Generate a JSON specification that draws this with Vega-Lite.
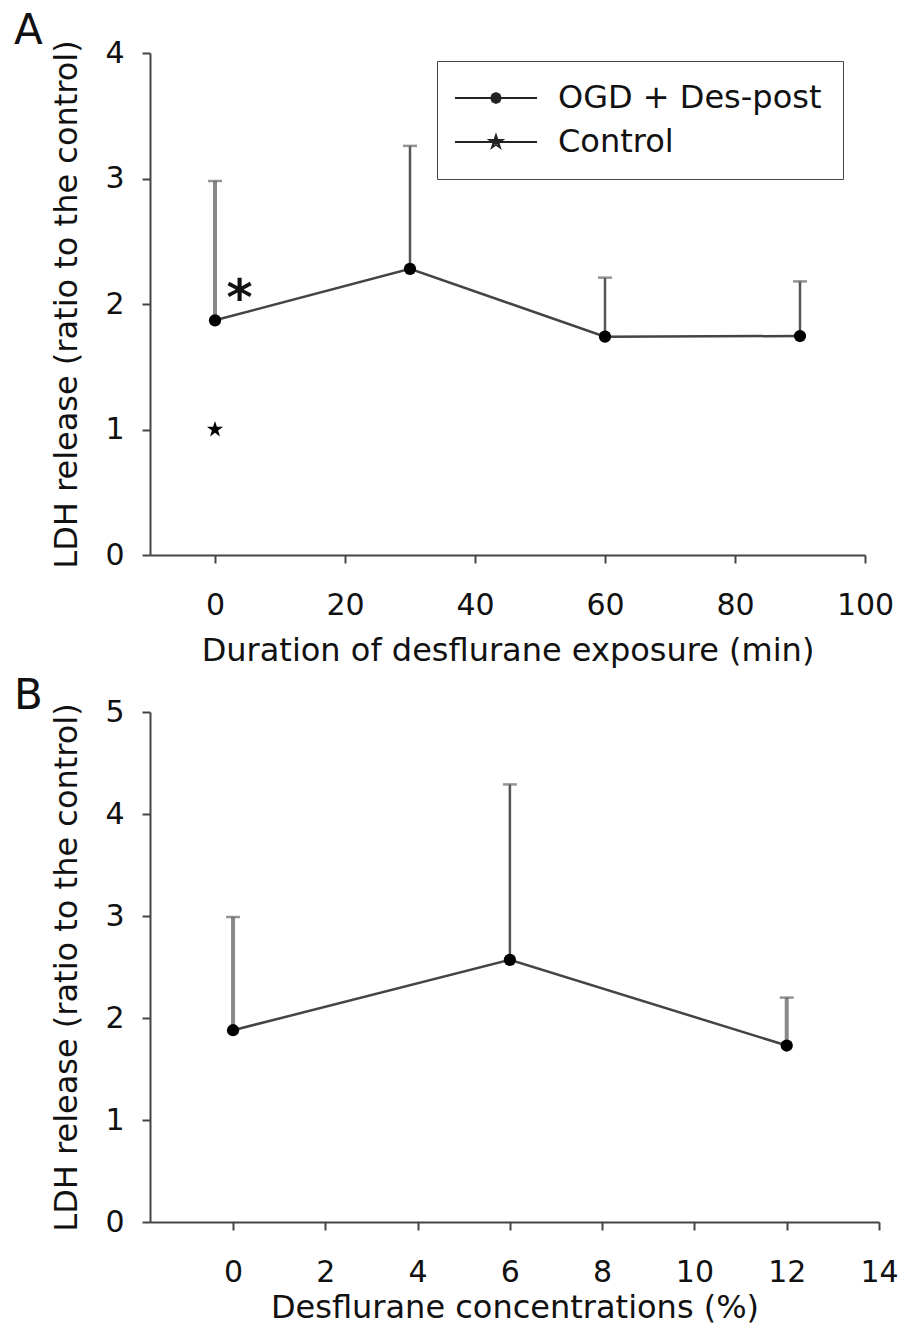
{
  "$schema": "https://vega.github.io/schema/vega-lite/v6.json",
  "background": "white",
  "padding": {"top": 10, "left": 13, "right": 0, "bottom": 0},
  "spacing": 9,
  "config": {
    "font": "DejaVu Sans",
    "view": {"stroke": null},
    "axis": {
      "domainColor": "#444", "domainWidth": 2, "tickColor": "#444", "tickWidth": 2, "tickSize": 8,
      "labelFont": "DejaVu Sans", "labelFontSize": 30, "labelColor": "#111",
      "titleFont": "DejaVu Sans", "titleFontSize": 32, "titleFontWeight": "normal", "titleColor": "#111",
      "grid": false, "labelFlush": false
    },
    "axisX": {"labelPadding": 27, "titlePadding": 15},
    "axisY": {"labelPadding": 18, "titlePadding": 21}
  },
  "vconcat": [
    {
      "width": 715,
      "height": 502,
      "title": {"text": "A", "anchor": "start", "frame": "bounds", "fontSize": 42, "fontWeight": "normal", "font": "DejaVu Sans", "color": "#111", "dx": -37, "offset": -15},
      "data": {"values": [
        {"dur": 0, "ldh": 1.87, "upper": 2.98, "series": "OGD + Des-post"},
        {"dur": 30, "ldh": 2.28, "upper": 3.26, "series": "OGD + Des-post"},
        {"dur": 60, "ldh": 1.74, "upper": 2.21, "series": "OGD + Des-post"},
        {"dur": 90, "ldh": 1.745, "upper": 2.18, "series": "OGD + Des-post"},
        {"dur": 0, "ldh": 1.0, "series": "Control"}
      ]},
      "encoding": {
        "x": {"field": "dur", "type": "quantitative", "scale": {"domain": [-10, 100], "nice": false, "zero": false}, "axis": {"values": [0, 20, 40, 60, 80, 100]}, "title": "Duration of desflurane exposure (min)"},
        "y": {"field": "ldh", "type": "quantitative", "scale": {"domain": [0, 4], "nice": false}, "axis": {"values": [0, 1, 2, 3, 4]}, "title": "LDH release (ratio to the control)"}
      },
      "layer": [
        {
          "transform": [{"filter": "datum.series === 'OGD + Des-post' && datum.dur === 0"}],
          "mark": {"type": "rule", "color": "#888", "strokeWidth": 4},
          "encoding": {"y2": {"field": "upper"}}
        },
        {
          "transform": [{"filter": "datum.series === 'OGD + Des-post' && datum.dur !== 0"}],
          "mark": {"type": "rule", "color": "#555", "strokeWidth": 2.5},
          "encoding": {"y2": {"field": "upper"}}
        },
        {
          "transform": [{"filter": "datum.series === 'OGD + Des-post'"}],
          "mark": {"type": "tick", "orient": "horizontal", "size": 14, "thickness": 2.5, "color": "#666"},
          "encoding": {"y": {"field": "upper", "type": "quantitative", "title": "LDH release (ratio to the control)"}}
        },
        {
          "transform": [{"filter": "datum.series === 'OGD + Des-post'"}],
          "mark": {"type": "line", "color": "#444", "strokeWidth": 2.5},
          "encoding": {}
        },
        {
          "transform": [{"filter": "datum.series === 'OGD + Des-post'"}],
          "mark": {"type": "point", "filled": true, "color": "black", "opacity": 1, "size": 150, "shape": "circle"},
          "encoding": {}
        },
        {
          "transform": [{"filter": "datum.series === 'Control'"}],
          "mark": {"type": "point", "filled": true, "color": "black", "opacity": 1, "size": 289, "shape": "M0,-1L0.225,-0.309L0.951,-0.309L0.363,0.118L0.588,0.809L0,0.382L-0.588,0.809L-0.363,0.118L-0.951,-0.309L-0.225,-0.309Z"},
          "encoding": {}
        },
        {
          "transform": [{"filter": "false"}],
          "mark": {"type": "point", "filled": false, "color": "#222", "strokeWidth": 2, "opacity": 1},
          "encoding": {
            "shape": {"field": "series", "type": "nominal",
              "scale": {"domain": ["OGD + Des-post", "Control"], "range": [
                "M-3.17,0H10.5M4.46,0L4.226,0.566L3.66,0.8L3.094,0.566L2.86,0L3.094,-0.566L3.66,-0.8L4.226,-0.566ZM4.11,0L3.978,0.318L3.66,0.45L3.342,0.318L3.21,0L3.342,-0.318L3.66,-0.45L3.978,-0.318ZM3.5,-0.15H3.82V0.15H3.5Z",
                "M-3.17,0H10.5M3.66,-1.1L3.907,-0.34L4.706,-0.34L4.06,0.13L4.307,0.89L3.66,0.42L3.013,0.89L3.26,0.13L2.614,-0.34L3.413,-0.34ZM3.66,-0.5L3.8,-0.1L4.1,0.1L3.66,0.25L3.22,0.1L3.52,-0.1Z"
              ]},
              "legend": {
                "title": null, "orient": "none", "legendX": 287, "legendY": 8,
                "strokeColor": "#444", "padding": 21, "rowPadding": 12,
                "labelFont": "DejaVu Sans", "labelFontSize": 32, "labelColor": "#111", "labelLimit": 500,
                "symbolSize": 144, "labelOffset": 68,
                "symbolStrokeColor": "#222", "symbolStrokeWidth": 2, "symbolOpacity": 1
              }
            }
          }
        },
        {
          "data": {"values": [{"dur": 3.8, "ldh": 2.13, "label": "*"}]},
          "mark": {"type": "text", "fontSize": 50, "fontWeight": "bold", "baseline": "middle", "dy": 12, "font": "DejaVu Sans", "color": "#111"},
          "encoding": {"text": {"field": "label"}}
        }
      ]
    },
    {
      "width": 729,
      "height": 510,
      "title": {"text": "B", "anchor": "start", "frame": "bounds", "fontSize": 42, "fontWeight": "normal", "font": "DejaVu Sans", "color": "#111", "dx": -37, "offset": -21},
      "data": {"values": [
        {"conc": 0, "ldh": 1.88, "upper": 2.99},
        {"conc": 6, "ldh": 2.57, "upper": 4.29},
        {"conc": 12, "ldh": 1.73, "upper": 2.2}
      ]},
      "encoding": {
        "x": {"field": "conc", "type": "quantitative", "scale": {"domain": [-1.8, 14], "nice": false, "zero": false}, "axis": {"values": [0, 2, 4, 6, 8, 10, 12, 14], "titlePadding": 5}, "title": "Desflurane concentrations (%)"},
        "y": {"field": "ldh", "type": "quantitative", "scale": {"domain": [0, 5], "nice": false}, "axis": {"values": [0, 1, 2, 3, 4, 5]}, "title": "LDH release (ratio to the control)"}
      },
      "layer": [
        {
          "transform": [{"filter": "datum.conc !== 6"}],
          "mark": {"type": "rule", "color": "#888", "strokeWidth": 4},
          "encoding": {"y2": {"field": "upper"}}
        },
        {
          "transform": [{"filter": "datum.conc === 6"}],
          "mark": {"type": "rule", "color": "#555", "strokeWidth": 2.5},
          "encoding": {"y2": {"field": "upper"}}
        },
        {
          "mark": {"type": "tick", "orient": "horizontal", "size": 14, "thickness": 2.5, "color": "#666"},
          "encoding": {"y": {"field": "upper", "type": "quantitative", "title": "LDH release (ratio to the control)"}}
        },
        {
          "mark": {"type": "line", "color": "#444", "strokeWidth": 2.5},
          "encoding": {}
        },
        {
          "mark": {"type": "point", "filled": true, "color": "black", "opacity": 1, "shape": "circle", "size": 150},
          "encoding": {}
        }
      ]
    }
  ]
}
